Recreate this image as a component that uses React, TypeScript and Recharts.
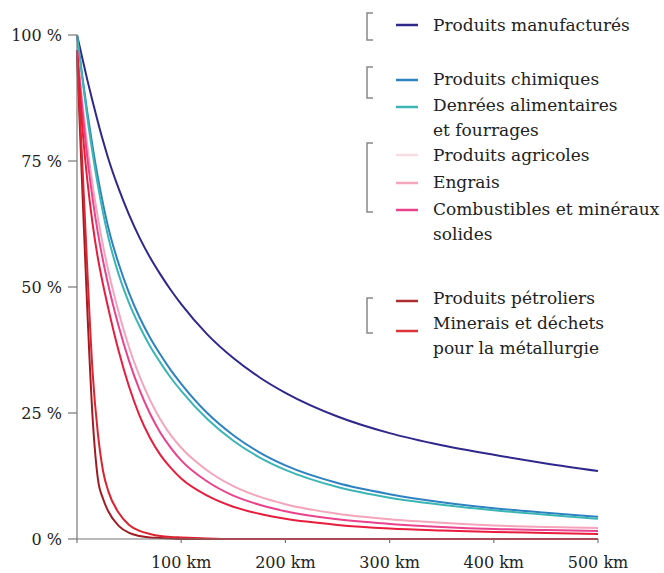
import React from "react";
import { LineChart, Line, XAxis, YAxis } from "recharts";

const distancesKm = [0, 5, 10, 15, 20, 25, 30, 40, 50, 60, 70, 80, 90, 100, 125, 150, 175, 200, 250, 300, 350, 400, 450, 500];

const manufactures = [100, 95.5, 91, 86.8, 82.8, 79, 75.5, 69.5, 64.3, 59.8, 55.9, 52.5, 49.4, 46.6, 40.6, 35.9, 32.1, 29.0, 24.3, 21.0, 18.6, 16.7, 15.0, 13.5];
const chimiques = [100, 92, 84.5, 77.8, 71.8, 66.5, 61.8, 54.6, 48.8, 44.0, 40.0, 36.6, 33.5, 30.8, 25.0, 20.6, 17.2, 14.6, 11.1, 8.9, 7.3, 6.1, 5.2, 4.4];
const denrees = [100, 91.5, 83.5, 76.5, 70.2, 64.7, 59.9, 52.5, 46.8, 42.2, 38.3, 35.0, 32.0, 29.4, 23.8, 19.5, 16.2, 13.7, 10.3, 8.2, 6.8, 5.7, 4.8, 4.0];
const engrais = [97, 86.8, 77.8, 70.2, 63.8, 58.2, 53.3, 45, 38, 32.3, 27.6, 23.7, 20.6, 18.1, 13.6, 10.5, 8.4, 6.9, 5.0, 3.9, 3.2, 2.7, 2.4, 2.2];
const combustibles = [97, 85.5, 75.5, 67.5, 60.8, 55.2, 50.4, 42.2, 35.3, 29.6, 24.9, 21.1, 18.1, 15.6, 11.4, 8.6, 6.8, 5.5, 3.9, 3.0, 2.4, 2.0, 1.8, 1.6];
const agricoles = [97, 82, 71, 62.5, 55.8, 50.5, 45.8, 37.3, 30.2, 24.5, 20.1, 16.7, 14.1, 12.0, 8.6, 6.4, 5.0, 4.0, 2.8, 2.1, 1.7, 1.4, 1.2, 1.0];
const petroliers = [96, 70, 45, 24, 12, 8, 5.5, 2.6, 1.2, 0.6, 0.3, 0.2, 0.1, 0, 0, 0, 0, 0, 0, 0, 0, 0, 0, 0];
const minerais = [96, 75, 53, 33, 21, 13.5, 9.5, 5.2, 2.8, 1.6, 1.0, 0.6, 0.4, 0.3, 0.1, 0, 0, 0, 0, 0, 0, 0, 0, 0];

const xTicks = [0, 100, 200, 300, 400, 500];
const yTicks = [0, 25, 50, 75, 100];

const seriesKeys = ["manufactures", "chimiques", "denrees", "engrais", "combustibles", "agricoles", "petroliers", "minerais"];
const seriesColors = ["#2f278c", "#2e82c2", "#3cb6b4", "#f4a5bb", "#ea428c", "#e81c3c", "#a11c22", "#dc2330"];
const seriesValues = [manufactures, chimiques, denrees, engrais, combustibles, agricoles, petroliers, minerais];

const legendLabels = [
  ["Produits manufacturés"],
  ["Produits chimiques"],
  ["Denrées alimentaires", "et fourrages"],
  ["Produits agricoles"],
  ["Engrais"],
  ["Combustibles et minéraux", "solides"],
  ["Produits pétroliers"],
  ["Minerais et déchets", "pour la métallurgie"],
];
const legendColors = ["#2f278c", "#2e82c2", "#3cb6b4", "#f7dce3", "#f4a5bb", "#ea428c", "#b02c30", "#dc3338"];
const legendSwatchY = [25, 80, 107, 155, 183, 210, 301, 331];
const legendBaseY = [31, 85, 111, 161, 188, 215, 304, 329];
const bracketRanges = [[13, 40], [67, 98], [143, 212], [298, 333]];

const data = distancesKm.map((km, i) => {
  const row: Record<string, number> = { km };
  seriesKeys.forEach((k, j) => {
    row[k] = seriesValues[j][i];
  });
  return row;
});

const font = "'DejaVu Serif', serif";

export default function App() {
  return (
    <div style={{ position: "absolute", left: 0, top: 0, width: 664, height: 573, background: "#fff" }}>
      <LineChart width={664} height={573} data={data} margin={{ top: 35, right: 66, bottom: 0, left: 0 }}>
        <XAxis
          dataKey="km"
          type="number"
          domain={[0, 500]}
          ticks={xTicks}
          tickFormatter={(v: number) => (v === 0 ? "" : `${v} km`)}
          height={34}
          tickSize={4}
          tickMargin={14}
          axisLine={{ stroke: "#777", strokeWidth: 1.2 }}
          tickLine={{ stroke: "#777", strokeWidth: 1.2 }}
          tick={{ fontFamily: font, fontSize: 16, fill: "#222" }}
        />
        <YAxis
          type="number"
          domain={[0, 100]}
          ticks={yTicks}
          tickFormatter={(v: number) => `${v} %`}
          width={77}
          tickSize={9}
          tickMargin={6}
          axisLine={{ stroke: "#777", strokeWidth: 1.2 }}
          tickLine={{ stroke: "#777", strokeWidth: 1.2 }}
          tick={{ fontFamily: font, fontSize: 16, fill: "#222" }}
        />
        {seriesKeys.map((k, j) => (
          <Line
            key={k}
            dataKey={k}
            type="monotone"
            stroke={seriesColors[j]}
            strokeWidth={2}
            dot={false}
            isAnimationActive={false}
          />
        ))}
      </LineChart>
      <svg width={664} height={573} style={{ position: "absolute", left: 0, top: 0, pointerEvents: "none" }}>
        {bracketRanges.map(([a, b], i) => (
          <path key={"b" + i} d={`M373,${a} L367,${a} L367,${b} L373,${b}`} fill="none" stroke="#888" strokeWidth={1.5} />
        ))}
        {legendLabels.map((lines, i) => (
          <g key={"l" + i}>
            <line x1={396} x2={418} y1={legendSwatchY[i]} y2={legendSwatchY[i]} stroke={legendColors[i]} strokeWidth={2.5} />
            {lines.map((t, k) => (
              <text key={k} x={433} y={legendBaseY[i] + k * 24.5} fontFamily={font} fontSize={17} fill="#222">
                {t}
              </text>
            ))}
          </g>
        ))}
      </svg>
    </div>
  );
}
